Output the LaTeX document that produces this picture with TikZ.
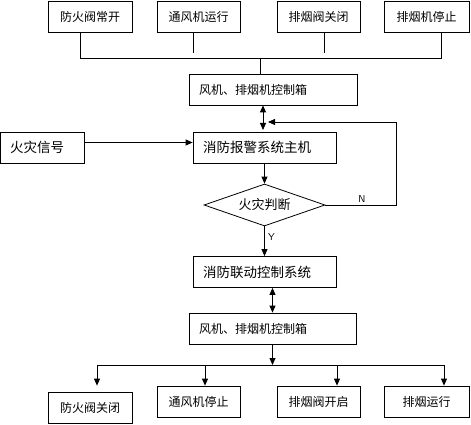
\documentclass[tikz,border=0pt]{standalone}
\usepackage{fontspec}
\newfontfamily\cjk{Noto Sans CJK SC}
\usetikzlibrary{arrows.meta,shapes.geometric}

\begin{document}
\begin{tikzpicture}[x=1pt,y=-1pt,>={Triangle[length=7pt,width=6pt]},line width=.8pt,
    box/.style={draw, font=\cjk\fontsize{12}{12}\selectfont, minimum height=31pt, inner sep=0pt},
    leftbox/.style={draw, font=\cjk\fontsize{#1}{13}\selectfont, minimum height=31pt,
      inner xsep=10pt, inner ysep=0pt, align=left}]

      \useasboundingbox (0,0) rectangle (471,425);

      \begin{scope}[every node/.style={box}]
        \node[minimum width=84pt] (t1) at (90,16.5)   {防火阀常开};
        \node[minimum width=83pt] (t2) at (198.5,16.5) {通风机运行};
        \node[minimum width=83pt] (t3) at (318.5,16.5) {排烟阀关闭};
        \node[minimum width=85pt] (t4) at (426.5,16.5) {排烟机停止};
        \node[minimum width=84pt] (b1) at (90,408)     {防火阀关闭};
        \node[minimum width=83pt] (b2) at (198.5,401.5) {通风机停止};
        \node[minimum width=83pt] (b3) at (318.5,401.5) {排烟阀开启};
        \node[minimum width=85pt] (b4) at (426.5,401.5) {排烟运行};
      \end{scope}

      \node[leftbox=12, text width=148pt] (ctl1) at (273,89.5)   {风机、排烟机控制箱};
      \node[leftbox=13.5, text width=123pt] (host) at (264.5,147.5) {消防报警系统主机};
      \node[leftbox=13.5, text width=64pt]  (sig)  at (42,147.5)   {火灾信号};
      \node[leftbox=13.5, text width=123pt] (link) at (264.5,272)   {消防联动控制系统};
      \node[leftbox=12, text width=147pt] (ctl2) at (272.5,328.5) {风机、排烟机控制箱};
      \node[draw, diamond, inner sep=0pt, shape aspect=2.9, minimum width=121pt,
        minimum height=42pt, font=\cjk\fontsize{13}{13}\selectfont] (judge) at (264.5,205) {火灾判断};

      % junctions
      \coordinate (j1) at (80,58);
      \coordinate (j4) at (441,58);
      \coordinate (e2) at (193,53);
      \coordinate (e3) at (324,53);
      \coordinate (jc) at (260,58);
      \coordinate (up) at (263,130);
      \coordinate (nr) at (396,205);
      \coordinate (nt) at (396,122);
      \coordinate (ne) at (268,122);
      \coordinate (k1) at (97,365);
      \coordinate (k2) at (205,365);
      \coordinate (k3) at (337,365);
      \coordinate (k4) at (444,365);

      \draw (t1.south -| j1) -- (j1) -- (j4) -- (t4.south -| j4);
      \draw (t2.south -| e2) -- (e2);
      \draw (t3.south -| e3) -- (e3);
      \draw (jc) -- (jc |- ctl1.north);

      \draw[<->] (ctl1.south -| up) -- (up);
      \draw[->] (judge.east) -- (nr) -- (nt) -- (ne);
      \draw[->] ([yshift=5pt]sig.east) -- ([yshift=5pt]sig.east -| host.west);
      \draw[->] (host.south) -- (judge.north);
      \draw[->] (judge.south) -- node[right, font=\sffamily\fontsize{10}{10}\selectfont, pos=.35] {Y} (link.north);
      \node[font=\sffamily\fontsize{10}{10}\selectfont] (nlab) at (362,199) {N};

      \draw[<->] (ctl2.north |- link.south) -- (ctl2.north);
      \draw[->] (ctl2.south) -- (ctl2.south |- k1);
      \draw (k1) -- (k4);
      \draw[->] (k1) -- (k1 |- b2.north);
      \draw[->] (k2) -- (k2 |- b2.north);
      \draw[->] (k3) -- (k3 |- b3.north);
      \draw[->] (k4) -- (k4 |- b4.north);

    \end{tikzpicture}
\end{document}
